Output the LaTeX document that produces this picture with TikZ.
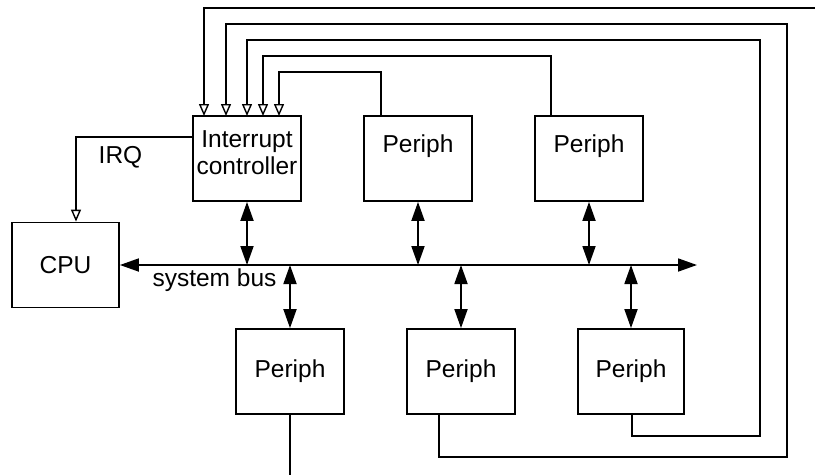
\documentclass[tikz,border=0pt]{standalone}
\usepackage{fontspec}
\setmainfont{Liberation Sans}
\usetikzlibrary{arrows.meta,calc}
\begin{document}
\begin{tikzpicture}[x=1pt,y=-1pt,
  txt/.style={font=\fontsize{24.5}{27}\selectfont,inner sep=0pt},
  wire/.style={line width=1.8pt},
  box/.style={draw,line width=1.8pt,minimum width=#1,minimum height=85pt,inner sep=0pt},
  dbl/.style={wire,{Triangle[length=19pt,width=13pt]}-{Triangle[length=19pt,width=13pt]}},
  intarr/.style={wire,-{Triangle[open,length=12pt,width=10pt,line width=1.4pt]}},
]
\useasboundingbox (0,0) rectangle (815,475);
% boxes
\node[box=108] (ic) at (247,158.5) {};
\node[box=107] (cpu) at (65.5,265) {};
\node[box=108] (p1) at (418,158.5) {};
\node[box=108] (p2) at (589,158.5) {};
\node[box=108] (p3) at (290,371.5) {};
\node[box=108] (p4) at (461,371.5) {};
\node[box=106] (p5) at (631,371.5) {};
% texts
\node[txt,align=center] (ict) at (247,152.5) {Interrupt\\controller};
\node[txt] (cput) at (65.5,265.5) {CPU};
\node[txt,anchor=base] (p1t) at (418,152) {Periph};
\node[txt,anchor=base] (p2t) at (589,152) {Periph};
\node[txt,anchor=base] (p3t) at (290,377) {Periph};
\node[txt,anchor=base] (p4t) at (461,377) {Periph};
\node[txt,anchor=base] (p5t) at (631,377) {Periph};
\node[txt,anchor=base] (irqt) at (120.5,163) {IRQ};
\node[txt,anchor=base] (bust) at (214.5,286) {system bus};
% bus
\coordinate (busend) at (697,265);
\draw[dbl] (cpu.east) -- (busend);
% bus taps
\draw[dbl] (ic.south) -- (ic.south |- busend);
\draw[dbl] (p1.south) -- (p1.south |- busend);
\draw[dbl] (p2.south) -- (p2.south |- busend);
\draw[dbl] (p3.north |- busend) -- (p3.north);
\draw[dbl] (p4.north |- busend) -- (p4.north);
\draw[dbl] (p5.north |- busend) -- (p5.north);
% IRQ
\coordinate (irq) at (76,137);
\draw[intarr] (irq -| ic.west) -- (irq) -- (irq |- cpu.north);
% interrupt lines
\coordinate (l1) at (204,116);
\coordinate (l2) at (226,116);
\coordinate (l3) at (247,116);
\coordinate (l4) at (263,116);
\coordinate (l5) at (279,116);
\coordinate (out1) at (815,8);
\draw[intarr] (out1) -- (out1 -| l1) -- (l1);
\coordinate (q4) at (439,414);
\draw[intarr] (q4) -- ($(q4)+(0,43)$) -- (787,457) -- (787,24) -- (226,24) -- (l2);
\coordinate (q5) at (632,414);
\draw[intarr] (q5) -- ($(q5)+(0,22)$) -- (760,436) -- (760,40) -- (247,40) -- (l3);
\coordinate (q2) at (551,116);
\draw[intarr] (q2) -- (551,56) -- (263,56) -- (l4);
\coordinate (q1) at (381,116);
\draw[intarr] (q1) -- (381,72) -- (279,72) -- (l5);
% free end below periph 3
\coordinate (down3) at (290,475);
\draw[wire] (p3.south) -- (down3);
\end{tikzpicture}
\end{document}
